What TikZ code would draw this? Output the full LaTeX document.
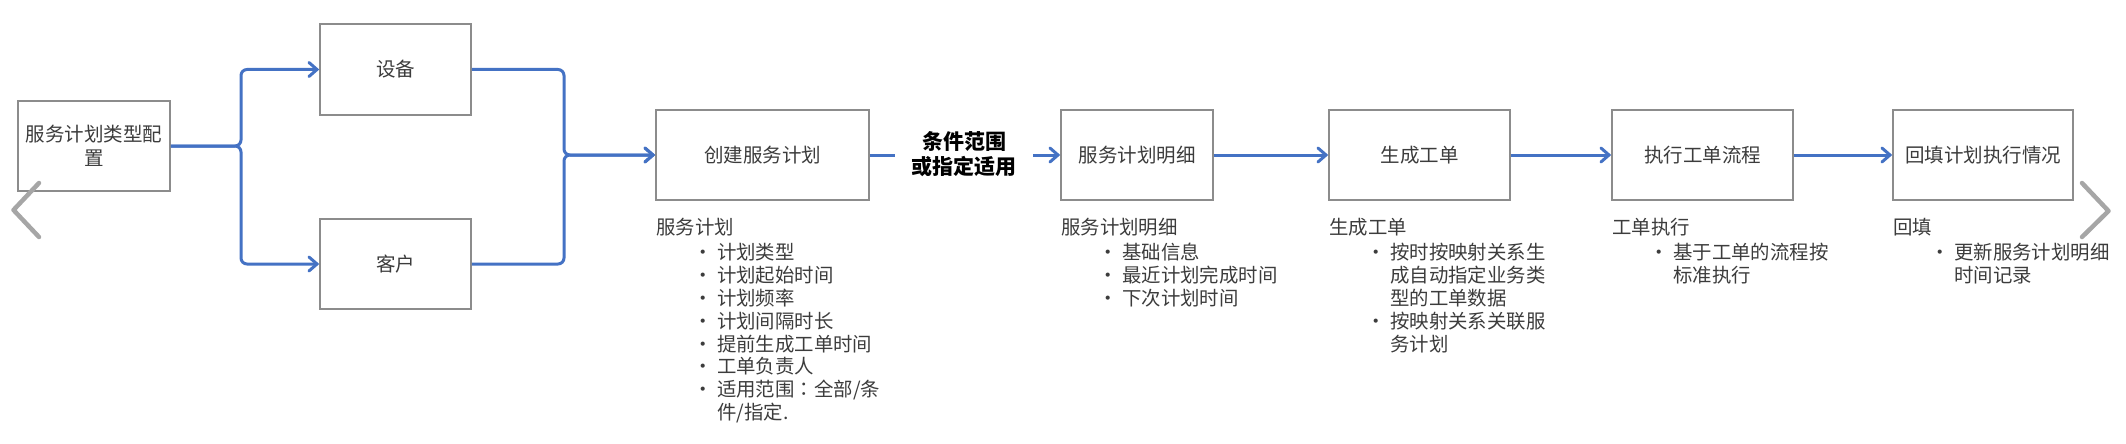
\documentclass[tikz,border=0pt]{standalone}
\usepackage{fontspec}
\setmainfont{Noto Sans CJK SC}
\newfontfamily\jpfont{Noto Sans CJK JP}
\usetikzlibrary{arrows.meta}
\definecolor{txt}{HTML}{3C3C3C}
\definecolor{boxc}{HTML}{8C8C8C}
\definecolor{bl}{HTML}{4472C4}
\definecolor{chc}{HTML}{A6A6A6}
\newcommand\bitem[1]{\hspace*{46.5pt}\makebox[0pt]{•}\hspace*{14.5pt}#1}
\newcommand\bcont[1]{\hspace*{61pt}#1}
\newcommand\firstl{\rule{0pt}{18pt}}
\begin{document}
\begin{tikzpicture}[x=1pt,y=-1pt,
  box/.style={draw=boxc, line width=1.5pt, fill=white, minimum width=#1, minimum height=90pt,
    inner sep=0pt, font=\fontsize{19.5}{24}\selectfont, text=txt, align=center},
  conn/.style={draw=bl, line width=3pt, rounded corners=6pt},
  arr/.style={conn, -{Straight Barb[length=8pt,width=14pt,line cap=round]}},
  chev/.style={draw=chc, line width=4.5pt, line cap=round, line join=round},
  note/.style={anchor=north west, inner sep=0pt, align=left, text=txt,
    font=\fontsize{19.4}{22.86}\selectfont}]
\useasboundingbox (0,0) rectangle (2126,444);
% boxes
\node[box=152] (b1) at (94,146) {服务计划类型配\\置};
\node[box=151, minimum height=91] (sb) at (395.5,69.5) {设备};
\node[box=151] (kh) at (395.5,264) {客户};
\node[box=213] (cj) at (762.5,155) {创建服务计划};
\node[box=152] (mx) at (1137,155) {服务计划明细};
\node[box=181] (gd) at (1419.5,155) {生成工单};
\node[box=181] (zx) at (1702.5,155) {执行工单流程};
\node[box=180] (ht) at (1983,155) {回填计划执行情况};
% split / merge connectors
\coordinate (sp) at (241,146);
\coordinate (mg) at (564,155);
\draw[arr] (b1.east) -| (sp |- sb.west) -- (sb.west);
\draw[arr] (b1.east) -| (sp |- kh.west) -- (kh.west);
\draw[arr] (sb.east) -| (mg) -- (cj.west);
\draw[arr] (kh.east) -| (mg) -- (cj.west);
% label between
\node[font=\bfseries\fontsize{21}{25}\selectfont, text=black, align=center, inner sep=0pt] (lbl) at (964,154.5) {条件范围\\或指定适用};
\coordinate (le) at (895,155);
\coordinate (ls) at (1033,155);
\draw[conn] (cj.east) -- (le);
\draw[arr] (ls) -- (mx.west);
\draw[arr] (mx.east) -- (gd.west);
\draw[arr] (gd.east) -- (zx.west);
\draw[arr] (zx.east) -- (ht.west);
% chevrons
\draw[chev] (39,183) -- (13.5,210) -- (39,237);
\draw[chev] (2082,183) -- (2108.5,211) -- (2082,237);
% notes
\node[note] (n1) at (656,216.4) {\firstl 服务计划\\[2.1pt]
\bitem{计划类型}\\
\bitem{计划起始时间}\\
\bitem{计划频率}\\
\bitem{计划间隔时长}\\
\bitem{提前生成工单时间}\\
\bitem{工单负责人}\\
\bitem{适用范围{\jpfont ：}全部/条}\\
\bcont{件/指定.}};
\node[note] (n2) at (1061,216.4) {\firstl 服务计划明细\\[2.1pt]
\bitem{基础信息}\\
\bitem{最近计划完成时间}\\
\bitem{下次计划时间}};
\node[note] (n3) at (1329,216.4) {\firstl 生成工单\\[2.1pt]
\bitem{按时按映射关系生}\\
\bcont{成自动指定业务类}\\
\bcont{型的工单数据}\\
\bitem{按映射关系关联服}\\
\bcont{务计划}};
\node[note] (n4) at (1612,216.4) {\firstl 工单执行\\[2.1pt]
\bitem{基于工单的流程按}\\
\bcont{标准执行}};
\node[note] (n5) at (1893,216.4) {\firstl 回填\\[2.1pt]
\bitem{更新服务计划明细}\\
\bcont{时间记录}};
\end{tikzpicture}
\end{document}
